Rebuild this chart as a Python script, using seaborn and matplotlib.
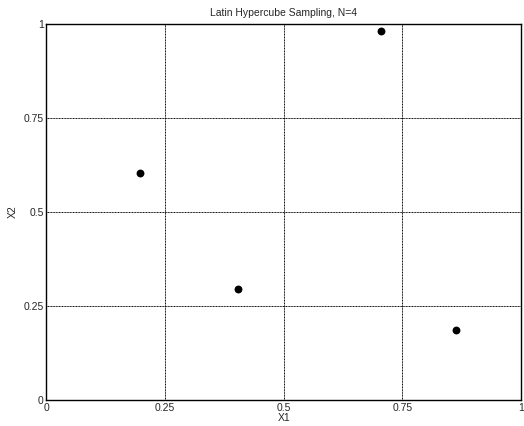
import numpy as np
import pandas as pd
import matplotlib
matplotlib.use("Agg")
import matplotlib.pyplot as plt
import seaborn as sns

# Latin hypercube sample points (N=4)
x1 = [0.197, 0.404, 0.705, 0.863]
x2 = [0.604, 0.295, 0.981, 0.186]
ticks = [0, 0.25, 0.5, 0.75, 1]
tick_labels = ["0", "0.25", "0.5", "0.75", "1"]

datos = pd.DataFrame({"X1": x1, "X2": x2})

sns.set_style("white")
plt.rcParams["font.family"] = ["Liberation Sans", "DejaVu Sans"]

fig = plt.figure(figsize=(5.24, 4.26), dpi=100)
ax = fig.add_axes([0.0887, 0.061, 0.9056, 0.8826])

sns.scatterplot(data=datos, x="X1", y="X2", color="black", s=32,
                edgecolor="black", linewidth=0, ax=ax, zorder=3)

ax.set_xlim(0, 1)
ax.set_ylim(0, 1)
ax.set_xticks(ticks)
ax.set_yticks(ticks)
ax.set_xticklabels(tick_labels, fontsize=7.5)
ax.set_yticklabels(tick_labels, fontsize=7.5)
ax.tick_params(length=0, pad=2)
ax.grid(True, color="black", linestyle=(0, (1, 0.6)), linewidth=0.7)

for s in ax.spines.values():
    s.set_color("black")
    s.set_linewidth(1.0)

ax.set_title("Latin Hypercube Sampling, N=4", fontsize=7.5, pad=6)
ax.set_xlabel("X1", fontsize=7.5, labelpad=0)
ax.set_ylabel("X2", fontsize=7.5, labelpad=4)

fig.savefig("out.png", dpi=100)
